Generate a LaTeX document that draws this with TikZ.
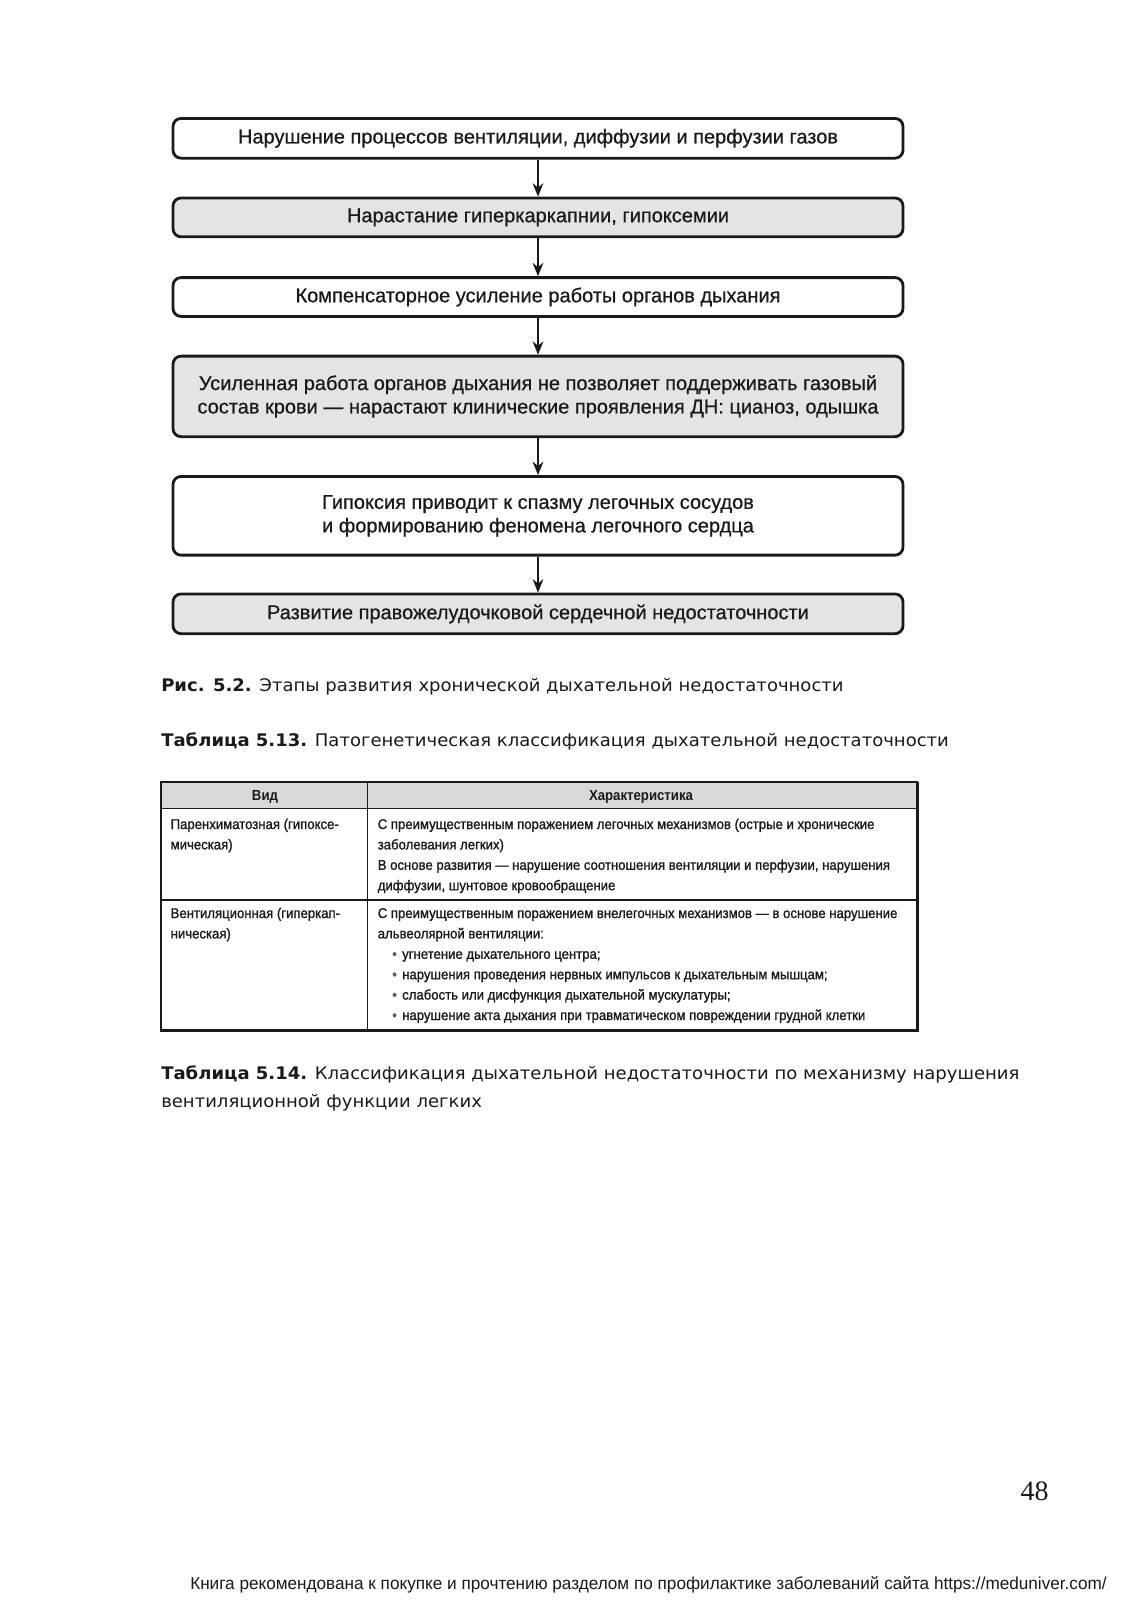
\documentclass[tikz,border=0pt]{standalone}
\usepackage{fontspec}
\usetikzlibrary{arrows.meta}
\setmainfont{Liberation Sans}
\newfontfamily\flowfont[FakeBold=0.6]{Liberation Sans}
\newfontfamily\tabfont[FakeStretch=0.93,FakeBold=1.2]{Liberation Sans}
\newfontfamily\tabheadfont[FakeStretch=0.9]{Liberation Sans}
\newfontfamily\capfont[FakeStretch=1.04]{DejaVu Sans}
\newfontfamily\footfont[FakeStretch=0.99]{Liberation Sans}
\newfontfamily\numfont{Liberation Serif}
\definecolor{boxgray}{HTML}{E4E4E4}
\definecolor{headgray}{HTML}{D9D9D9}
\definecolor{ink}{HTML}{1A1A1A}
\tikzset{
  flowbox/.style={draw=ink, line width=2.1pt, rounded corners=6pt, minimum width=547.5pt,
    align=center, font=\flowfont\fontsize{15pt}{17.6pt}\selectfont, text=ink, inner sep=0pt},
  flowgray/.style={flowbox, fill=boxgray},
  flowwhite/.style={flowbox, fill=white},
  flowarrow/.style={draw=ink, line width=1.5pt, -{Stealth[length=10pt,width=8pt]}},
  captext/.style={anchor=base west, inner sep=0pt, font=\capfont\fontsize{13pt}{20.6pt}\selectfont, text=ink},
  celltext/.style={anchor=base west, inner sep=0pt, align=left, text=ink,
    font=\tabfont\fontsize{10.6pt}{15.3pt}\selectfont},
  headtext/.style={anchor=base, inner sep=0pt, text=ink, font=\tabheadfont\bfseries\fontsize{11pt}{15.3pt}\selectfont},
}
\begin{document}
\begin{tikzpicture}[x=0.75pt,y=-0.75pt]
\useasboundingbox[fill=white] (0,0) rectangle (1132,1600);
% flowchart
\node[flowwhite, minimum height=29.8pt] (b1) at (538,138.3) {Нарушение процессов вентиляции, диффузии и перфузии газов};
\node[flowgray, minimum height=29.1pt] (b2) at (538,217.4) {Нарастание гиперкаркапнии, гипоксемии};
\node[flowwhite, minimum height=29.1pt] (b3) at (538,297) {Компенсаторное усиление работы органов дыхания};
\node[flowgray, minimum height=60.4pt] (b4) at (538,396.4) {Усиленная работа органов дыхания не позволяет поддерживать газовый\\состав крови — нарастают клинические проявления ДН: цианоз, одышка};
\node[flowwhite, minimum height=59pt] (b5) at (538,515.8) {Гипоксия приводит к спазму легочных сосудов\\и формированию феномена легочного сердца};
\node[flowgray, minimum height=29.8pt] (b6) at (538,613.8) {Развитие правожелудочковой сердечной недостаточности};
\draw[flowarrow] (b1) -- (b2);
\draw[flowarrow] (b2) -- (b3);
\draw[flowarrow] (b3) -- (b4);
\draw[flowarrow] (b4) -- (b5);
\draw[flowarrow] (b5) -- (b6);
% captions
\node[captext] (cap1) at (161,691) {\textbf{Рис. 5.2.} Этапы развития хронической дыхательной недостаточности};
\node[captext] (cap2) at (161,746) {\textbf{Таблица 5.13.} Патогенетическая классификация дыхательной недостаточности};
% table
\fill[headgray] (161.2,781.6) rectangle (917.3,808.2);
\draw[ink, line width=1pt] (161.2,808.2) -- (917.3,808.2);
\draw[ink, line width=1pt] (161.2,900) -- (917.3,900);
\draw[ink, line width=1pt] (367.3,781.6) -- (367.3,1030.6);
\draw[ink, line width=1.6pt] (161.2,781.6) rectangle (917.3,1030.6);
\draw[ink, line width=2.2pt] (917.3,781.6) -- (917.3,1030.6) -- (161.2,1030.6);
\node[headtext] (h1) at (265,800) {Вид};
\node[headtext] (h2) at (641,800) {Характеристика};
\node[celltext] (c11) at (170.4,849.4) {Паренхиматозная (гипоксе-\\мическая)};
\node[celltext] (c12) at (377.5,890.2) {С преимущественным поражением легочных механизмов (острые и хронические\\заболевания легких)\\В основе развития — нарушение соотношения вентиляции и перфузии, нарушения\\диффузии, шунтовое кровообращение};
\node[celltext] (c21) at (170.4,938.4) {Вентиляционная (гиперкап-\\ническая)};
\node[celltext] (c22) at (377.5,938.4) {С преимущественным поражением внелегочных механизмов — в основе нарушение\\альвеолярной вентиляции:};
\node[celltext] (c23) at (392,1020) {{\color{ink!70}•}\hspace{4pt}угнетение дыхательного центра;\\{\color{ink!70}•}\hspace{4pt}нарушения проведения нервных импульсов к дыхательным мышцам;\\{\color{ink!70}•}\hspace{4pt}слабость или дисфункция дыхательной мускулатуры;\\{\color{ink!70}•}\hspace{4pt}нарушение акта дыхания при травматическом повреждении грудной клетки};
% caption 5.14
\node[captext, align=left] (cap3) at (161,1107) {\textbf{Таблица 5.14.} Классификация дыхательной недостаточности по механизму нарушения\\вентиляционной функции легких};
% page number and footer
\node[anchor=base east, inner sep=0pt, font=\numfont\fontsize{21pt}{22pt}\selectfont, text=ink] (pn) at (1049,1500) {48};
\node[anchor=base west, inner sep=0pt, font=\footfont\fontsize{13pt}{15pt}\selectfont, text=ink] (foot) at (190,1589) {Книга рекомендована к покупке и прочтению разделом по профилактике заболеваний сайта https://meduniver.com/};
\end{tikzpicture}
\end{document}
